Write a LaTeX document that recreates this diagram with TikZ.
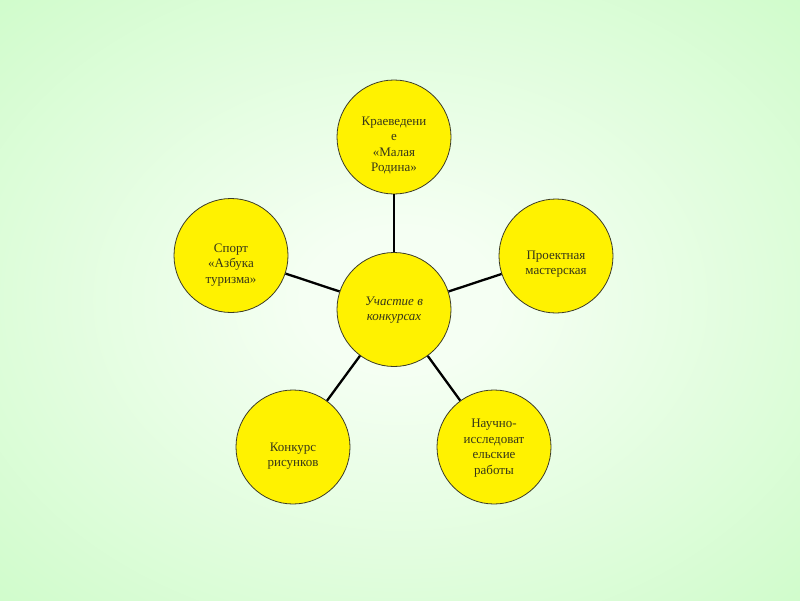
\documentclass[tikz,border=0pt]{standalone}
\usepackage{fontspec}
\setmainfont{Liberation Serif}
\definecolor{bgin}{RGB}{245,255,243}
\definecolor{bgmid}{RGB}{190,250,184}
\definecolor{bgout}{RGB}{165,242,155}
\definecolor{bubline}{RGB}{60,60,40}
\definecolor{txt}{RGB}{55,55,25}
\pgfdeclareradialshading{bgshade}{\pgfpoint{0bp}{0bp}}{color(0bp)=(bgin); color(6bp)=(bgin); color(50bp)=(bgmid); color(71bp)=(bgout)}
\tikzset{
  bub/.style={circle, draw=bubline, line width=0.8pt, fill=yellow, minimum size=114pt, inner sep=0pt},
  lbl/.style={align=center, font=\fontsize{13}{15.5}\selectfont, text=txt, inner sep=0pt},
  conn/.style={line width=2.3pt, black}
}
\begin{document}
\begin{tikzpicture}[x=1pt,y=-1pt]
\shade[shading=bgshade] (0,0) rectangle (800,600);
\useasboundingbox (0,0) rectangle (800,600);
\node[bub] (c) at (394,309.5) {};
\node[bub] (top) at (394,137) {};
\node[bub] (right) at (556,256) {};
\node[bub] (left) at (231,255.5) {};
\node[bub] (bl) at (293,447) {};
\node[bub] (br) at (494,447) {};
\draw[conn] (c) -- (top);
\draw[conn] (c) -- (right);
\draw[conn] (c) -- (left);
\draw[conn] (c) -- (bl);
\draw[conn] (c) -- (br);
\node[lbl, font=\fontsize{13}{15.5}\selectfont\itshape] (ct) at (394,310) {Участие в\\конкурсах};
\node[lbl] (topt) at (394,145.5) {Краеведени\\е\\«Малая\\Родина»};
\node[lbl] (rightt) at (556,264) {Проектная\\мастерская};
\node[lbl] (leftt) at (231,265) {Спорт\\«Азбука\\туризма»};
\node[lbl] (blt) at (293,456) {Конкурс\\рисунков};
\node[lbl] (brt) at (494,448) {Научно-\\исследоват\\ельские\\работы};
\end{tikzpicture}
\end{document}
